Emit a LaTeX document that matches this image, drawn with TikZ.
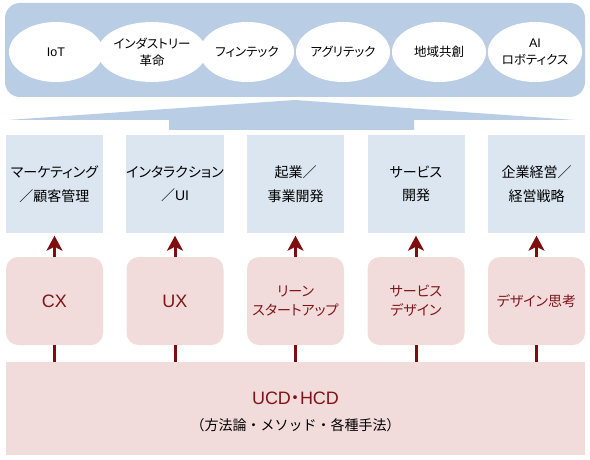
\documentclass[tikz,border=0pt]{standalone}
\usepackage{fontspec}
\setmainfont{Noto Sans CJK JP}[RawFeature=+palt]
\newfontfamily\fullw{Noto Sans CJK JP}
\newfontfamily\lat{Liberation Sans}
\usetikzlibrary{shapes.geometric,arrows.meta}
\definecolor{topblue}{HTML}{B9CDE5}
\definecolor{boxblue}{HTML}{DCE6F1}
\definecolor{boxpink}{HTML}{F2DCDB}
\definecolor{darkred}{HTML}{800E0E}
\definecolor{textred}{HTML}{7F1518}
\begin{document}
\begin{tikzpicture}[x=1pt,y=-1pt,
  oval/.style={ellipse, fill=white, minimum width=94pt, minimum height=60pt, inner sep=0pt, align=center, font=\fontsize{12.5}{16.5}\selectfont},
  bluebox/.style={rectangle, fill=boxblue, minimum width=97pt, minimum height=98pt, inner sep=0pt, align=center, font=\fontsize{14}{23.5}\selectfont},
  pinkbox/.style={rectangle, rounded corners=12pt, fill=boxpink, minimum width=97pt, minimum height=88pt, inner sep=0pt, align=center, text=textred, font=\fontsize{14}{19}\selectfont},
  arr/.style={draw=darkred, line width=3pt, -{Stealth[length=15pt,width=16pt,inset=4pt]}, shorten >=2.5pt},
  link/.style={draw=darkred, line width=3pt}]
\useasboundingbox (0,0) rectangle (590,460);
% top container
\node[fill=topblue, rounded corners=15pt, minimum width=580pt, minimum height=94pt, inner sep=0pt] (top) at (295,50) {};
\node[oval] (e1) at (56,52) {\lat IoT};
\node[oval] (e2) at (152,52) {インダストリー\\革命};
\node[oval] (e3) at (247,52) {フィンテック};
\node[oval] (e4) at (343,52) {アグリテック};
\node[oval] (e5) at (439,52) {地域共創};
\node[oval] (e6) at (535,52) {{\lat AI}\\ロボティクス};
% wide arrow shape
\fill[topblue] (8,120) -- (295,100) -- (575,120) -- (414,120) -- (414,130) -- (169,130) -- (169,120) -- cycle;
% blue boxes
\node[bluebox] (b1) at (54.5,184) {マーケティング\\／顧客管理};
\node[bluebox] (b2) at (175,184) {インタラクション\\／{\lat UI}};
\node[bluebox] (b3) at (295.5,184) {起業／\\事業開発};
\node[bluebox] (b4) at (416,184) {サービス\\開発};
\node[bluebox] (b5) at (536.5,184) {企業経営／\\経営戦略};
% pink boxes
\node[pinkbox, font=\fontsize{18}{20}\selectfont\lat] (p1) at (54.5,301) {CX};
\node[pinkbox, font=\fontsize{18}{20}\selectfont\lat] (p2) at (175,301) {UX};
\node[pinkbox] (p3) at (295.5,301) {リーン\\スタートアップ};
\node[pinkbox] (p4) at (416,301) {サービス\\デザイン};
\node[pinkbox] (p5) at (536.5,301) {デザイン思考};
% base
\node[rectangle, fill=boxpink, minimum width=579pt, minimum height=93pt, inner sep=0pt] (base) at (295.5,408.5) {};
\node[text=textred, font=\fontsize{18}{20}\selectfont] (ucd) at (295.5,398) {{\lat UCD}・{\lat HCD}};
\node[font=\fontsize{14}{16}\selectfont\fullw] (meth) at (295.5,425) {（方法論・メソッド・各種手法）};
% connectors
\foreach \i in {1,...,5} {
  \draw[arr] (p\i) -- (b\i);
  \draw[link] (p\i.south) -- (p\i.south |- base.north);
}
\end{tikzpicture}
\end{document}
